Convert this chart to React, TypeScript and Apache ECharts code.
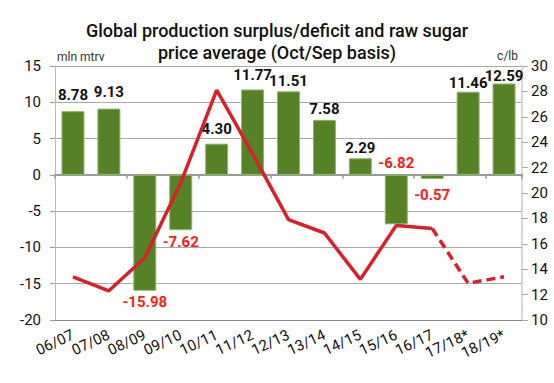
import React, { useEffect, useRef } from "react";
import * as echarts from "echarts";

const categories = ["06/07", "07/08", "08/09", "09/10", "10/11", "11/12", "12/13", "13/14", "14/15", "15/16", "16/17", "17/18*", "18/19*"];
const balance = [8.78, 9.13, -15.98, -7.62, 4.3, 11.77, 11.51, 7.58, 2.29, -6.82, -0.57, 11.46, 12.59];
const priceActual = [13.4, 12.3, 14.9, 20.8, 28.1, 23.1, 17.9, 16.85, 13.2, 17.45, 17.2, null, null];
const priceForecast = [null, null, null, null, null, null, null, null, null, null, 17.2, 12.9, 13.4];
const leftTicks = { min: -20, max: 15, interval: 5 };
const rightTicks = { min: 10, max: 30, interval: 2 };
const titleLines = ["Global production surplus/deficit and raw sugar", "price average (Oct/Sep basis)"];
const leftUnit = "mln mtrv";
const rightUnit = "c/lb";

const labelDistance: Record<number, number> = { 0: 9, 1: 9, 4: 7, 5: 7, 10: 9, 11: 1, 12: 0 };
const labelTop: Record<number, boolean> = { 9: true };

export default function App() {
  const ref = useRef<HTMLDivElement>(null);
  useEffect(() => {
    if (!ref.current) return;
    const chart = echarts.init(ref.current, null, { renderer: "svg" });
    const font = "Roboto, 'Liberation Sans', sans-serif";
    const barData = balance.map((v, i) => {
      const neg = v < 0;
      return {
        value: v,
        label: {
          show: true,
          position: neg ? (labelTop[i] ? "top" : "bottom") : "top",
          distance: labelDistance[i] ?? (neg ? 4 : 3),
          color: neg ? "#ff1a1a" : "#111111",
          formatter: () => v.toFixed(2),
        },
      };
    });
    chart.setOption({
      animation: false,
      textStyle: { fontFamily: font },
      title: {
        text: titleLines.join("\n"),
        left: "center",
        top: 14,
        textStyle: { fontSize: 18, fontWeight: 500, color: "#111", lineHeight: 22, fontFamily: font },
      },
      graphic: [
        { type: "text", left: 57, top: 51, style: { text: leftUnit, fontSize: 12, fill: "#333", fontFamily: font } },
        { type: "text", right: 36, top: 50, style: { text: rightUnit, fontSize: 12, fill: "#333", fontFamily: font, align: "right" } },
      ],
      grid: { left: 55, right: 32, top: 66, bottom: 63 },
      xAxis: [
        {
          type: "category",
          data: categories,
          position: "bottom",
          axisLine: { onZero: false, show: true, lineStyle: { color: "#888", width: 1 } },
          axisTick: { show: false },
          axisLabel: { rotate: 25, margin: 14, fontSize: 15, color: "#111", interval: 0, fontFamily: font },
        },
        {
          type: "category",
          data: categories,
          position: "top",
          axisLine: { onZero: true, onZeroAxisIndex: 0, show: true, lineStyle: { color: "#999", width: 2 } },
          axisTick: { show: true, inside: true, length: 4, lineStyle: { color: "#999", width: 1.5 } },
          axisLabel: { show: false },
        },
      ],
      yAxis: [
        {
          type: "value",
          min: leftTicks.min,
          max: leftTicks.max,
          interval: leftTicks.interval,
          axisLine: { show: true, lineStyle: { color: "#bbb" } },
          axisTick: { show: true, length: 5, lineStyle: { color: "#999" } },
          axisLabel: { fontSize: 15, color: "#111", margin: 14, fontFamily: font },
          splitLine: { show: true, lineStyle: { color: "#a8a8a8", width: 1 } },
        },
        {
          type: "value",
          min: rightTicks.min,
          max: rightTicks.max,
          interval: rightTicks.interval,
          axisLine: { show: true, lineStyle: { color: "#ccc", width: 1.5 } },
          axisTick: { show: true, length: 6, lineStyle: { color: "#aaa" } },
          axisLabel: { fontSize: 15, color: "#111", margin: 9, fontFamily: font },
          splitLine: { show: false },
        },
      ],
      series: [
        {
          type: "bar",
          data: barData,
          barWidth: 23,
          itemStyle: { color: "#558227", borderColor: "#8db866", borderWidth: 1 },
          label: { fontSize: 15, fontWeight: "bold", fontFamily: font },
          z: 2,
        },
        {
          type: "line",
          yAxisIndex: 1,
          data: priceActual,
          symbol: "none",
          lineStyle: { color: "#d9202a", width: 3.5 },
          z: 3,
        },
        {
          type: "line",
          yAxisIndex: 1,
          data: priceForecast,
          symbol: "none",
          lineStyle: { color: "#d9202a", width: 3.5, type: [9, 5] },
          z: 3,
        },
      ],
    });
    return () => chart.dispose();
  }, []);
  return <div ref={ref} style={{ width: 554, height: 383, position: "absolute", left: 0, top: 0 }} />;
}
